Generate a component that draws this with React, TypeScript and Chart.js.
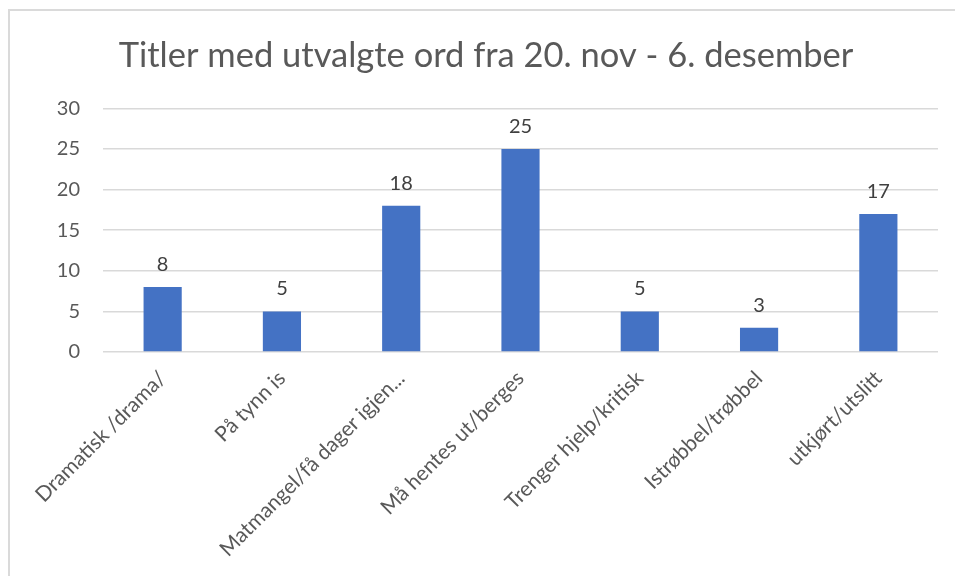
import React, { useEffect, useRef } from "react";
import { Chart, registerables } from "chart.js";

Chart.register(...registerables);

const categories = [
  "Dramatisk /drama/",
  "På tynn is",
  "Matmangel/få dager igjen...",
  "Må hentes ut/berges",
  "Trenger hjelp/kritisk",
  "Istrøbbel/trøbbel",
  "utkjørt/utslitt",
];
const values = [8, 5, 18, 25, 5, 3, 17];
const titleText = "Titler med utvalgte ord fra 20. nov - 6. desember";

const FONT = "Lato, 'Open Sans', sans-serif";

const dataLabelPlugin = {
  id: "dataLabels",
  afterDatasetsDraw(chart: any) {
    const ctx = chart.ctx;
    const meta = chart.getDatasetMeta(0);
    ctx.save();
    ctx.fillStyle = "#404040";
    ctx.font = `20px ${FONT}`;
    ctx.textAlign = "center";
    ctx.textBaseline = "alphabetic";
    meta.data.forEach((bar: any, i: number) => {
      ctx.fillText(String(values[i]), bar.x, bar.y - 16);
    });
    ctx.restore();
  },
};

export default function App() {
  const ref = useRef<HTMLCanvasElement>(null);
  useEffect(() => {
    if (!ref.current) return;
    const chart = new Chart(ref.current, {
      type: "bar",
      data: {
        labels: categories,
        datasets: [
          {
            data: values,
            backgroundColor: "#4472C4",
            borderWidth: 0,
            categoryPercentage: 1,
            barPercentage: 0.32,
          },
        ],
      },
      options: {
        animation: false,
        responsive: false,
        maintainAspectRatio: false,
        layout: { padding: { left: 34, right: 17, top: 0, bottom: 0 } },
        plugins: {
          legend: { display: false },
          tooltip: { enabled: false },
          title: {
            display: true,
            text: titleText,
            color: "#595959",
            font: { family: FONT, size: 34.5, weight: "normal", lineHeight: 1.2 },
            padding: { top: 35, bottom: 32 },
          },
        },
        scales: {
          x: {
            grid: { display: false },
            border: { display: false },
            ticks: {
              color: "#595959",
              font: { family: FONT, size: 21 },
              minRotation: 45,
              maxRotation: 45,
              autoSkip: false,
              padding: 6,
            },
            afterFit: (s: any) => {
              s.height = 224;
            },
          },
          y: {
            min: 0,
            max: 30,
            ticks: {
              stepSize: 5,
              color: "#595959",
              font: { family: FONT, size: 20 },
              padding: 23,
            },
            grid: { color: "#d9d9d9", lineWidth: 1.5, drawTicks: false },
            border: { display: false },
            afterFit: (s: any) => {
              s.width = 69;
            },
          },
        },
      },
      plugins: [dataLabelPlugin],
    });
    return () => chart.destroy();
  }, []);
  return (
    <div style={{ position: "fixed", left: 0, top: 0, width: 955, height: 576, background: "#fff", overflow: "hidden" }}>
      <div
        style={{
          position: "absolute",
          left: 8,
          top: 9,
          width: 980,
          height: 600,
          border: "2px solid #dadada",
          boxSizing: "border-box",
        }}
      />
      <canvas ref={ref} width={955} height={576} style={{ position: "absolute", left: 0, top: 0 }} />
    </div>
  );
}
